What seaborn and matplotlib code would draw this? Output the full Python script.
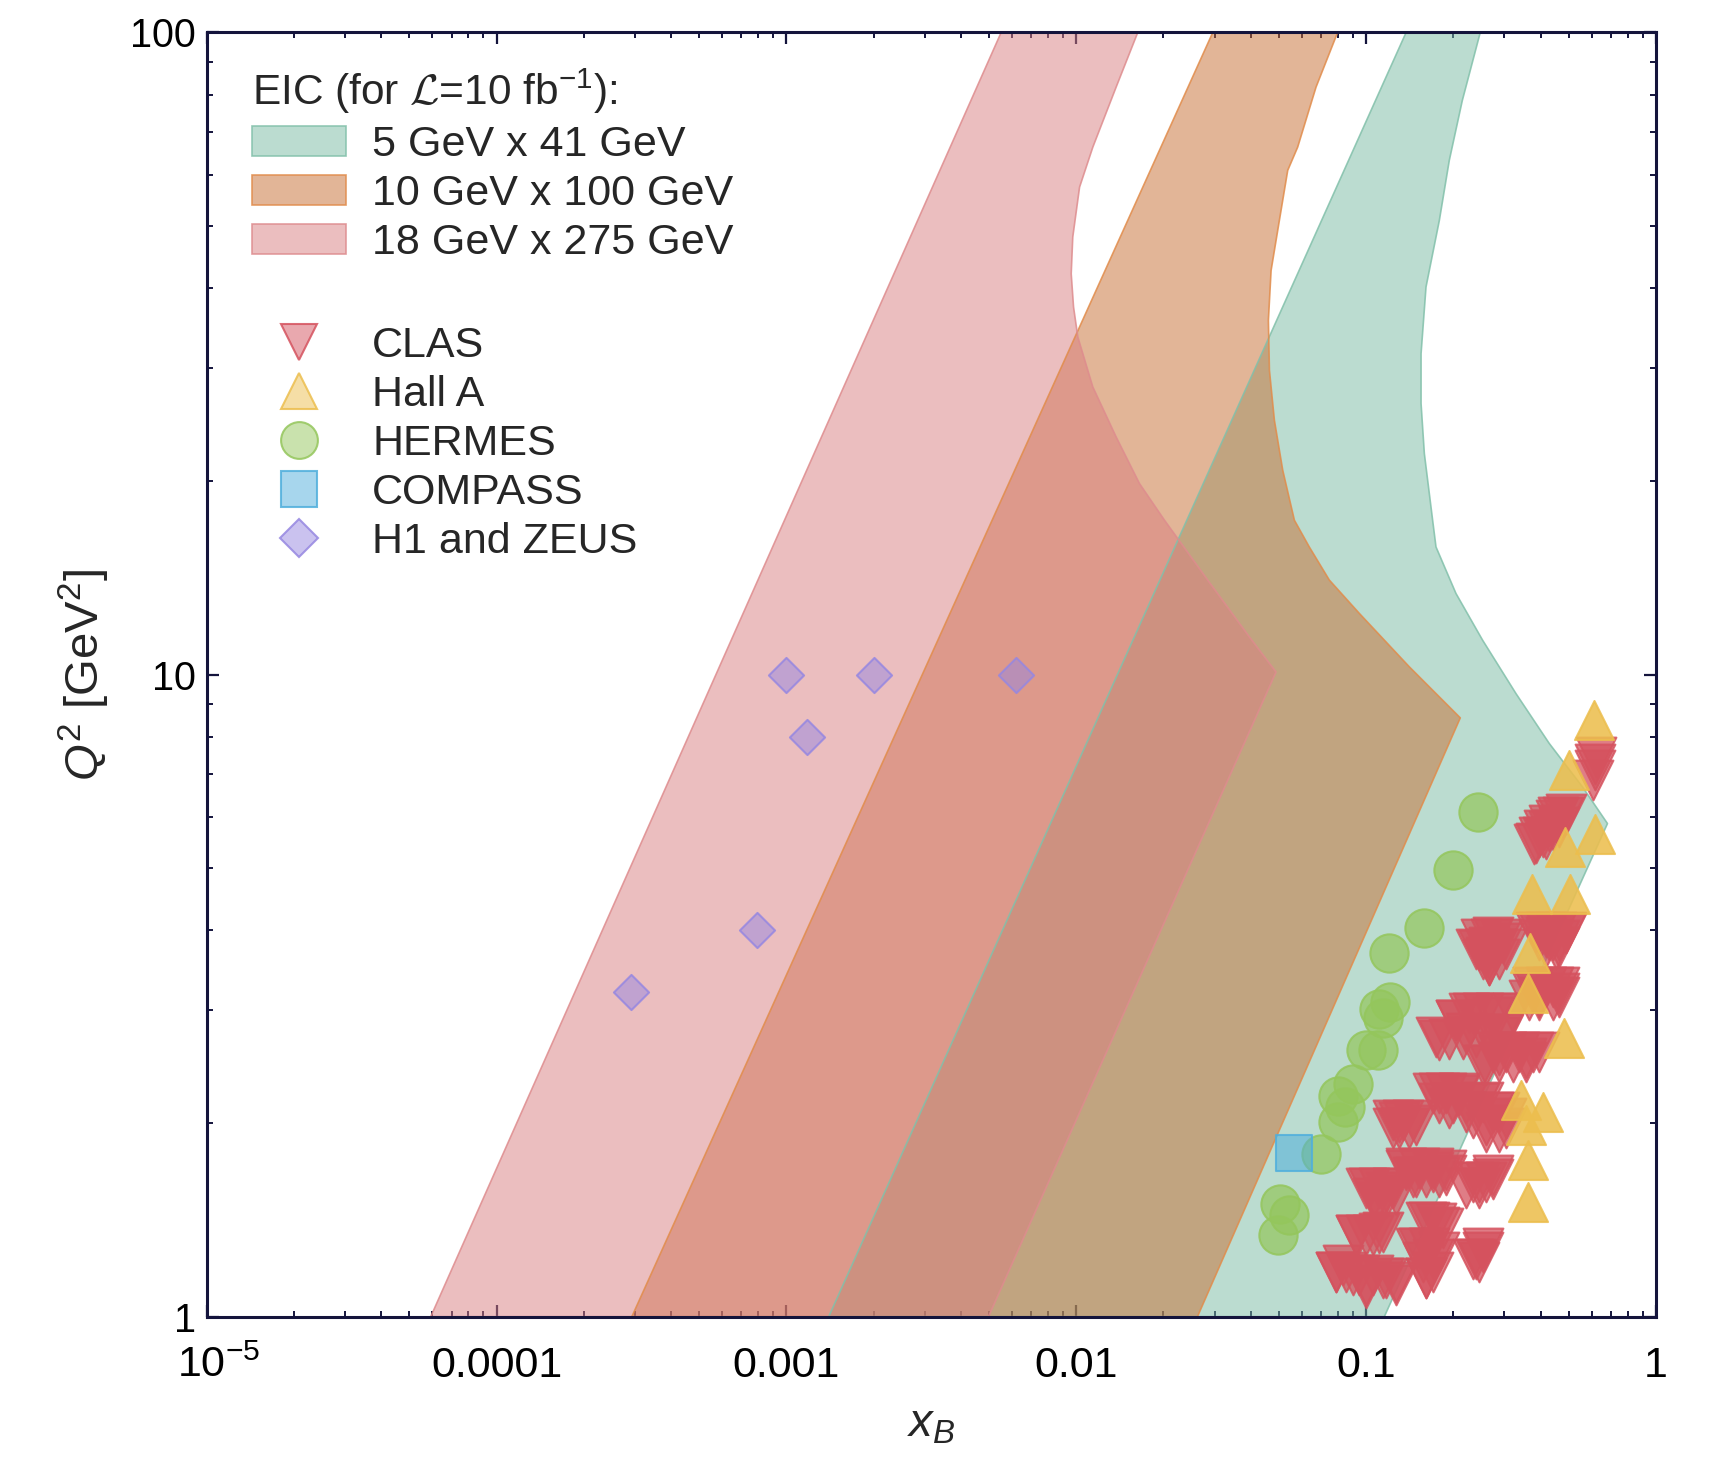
import numpy as np
import pandas as pd
import matplotlib
matplotlib.use("Agg")
import matplotlib.pyplot as plt
import matplotlib.transforms as mtransforms
import seaborn as sns
from matplotlib.patches import Patch
from matplotlib.lines import Line2D
from matplotlib.font_manager import FontProperties

# ---------------- data ----------------
band_labels = ["5 GeV x 41 GeV", "10 GeV x 100 GeV", "18 GeV x 275 GeV"]

# EIC acceptance bands: boundary (x_B, Q^2), traced around each region
green_x = [1.40e-3, 0.1156, 0.6807, 0.5585, 0.4286, 0.3290, 0.2524, 0.2043, 0.1743,
           0.1697, 0.1589, 0.1548, 0.1548, 0.1610, 0.1790, 0.1937, 0.2148, 0.2478,
           0.1375]
green_q2 = [1, 1, 5.86, 6.68, 7.81, 9.34, 11.31, 13.37, 15.80,
            17.39, 22.08, 26.42, 31.60, 40.13, 50.96, 63.18, 78.3, 100,
            100]

orange_x = [2.93e-4, 0.02620, 0.2114, 0.1410, 0.0948, 0.0747, 0.0637, 0.05659,
            0.05159, 0.04828, 0.04641, 0.04603, 0.04703, 0.05023, 0.05367, 0.05808,
            0.0672, 0.0798, 0.0296]
orange_q2 = [1, 1, 8.56, 10.28, 12.45, 14.03, 15.80, 17.39,
             20.80, 24.88, 29.77, 35.61, 42.59, 50.96, 60.96, 66.25,
             82.16, 100, 100]

pink_x = [5.93e-5, 4.98e-3, 0.0489, 0.03959, 0.02813, 0.02016, 0.01653, 0.01373,
          0.01141, 0.01013, 0.00979, 0.00961, 0.00973, 0.01027, 0.01141, 0.01373,
          0.01631, 5.51e-3]
pink_q2 = [1, 1, 10.09, 11.44, 14.12, 17.39, 19.83, 23.44,
           28.04, 33.54, 37.35, 42.09, 48.0, 57.41, 66.25, 82.16,
           100, 100]

clas_x = [0.621, 0.615, 0.607, 0.618,
          0.489, 0.458, 0.4285, 0.4065, 0.3855,
          0.4764, 0.4519, 0.4286, 0.4120, 0.3959, 0.3804, 0.4401, 0.4174, 0.4641,
          0.2733, 0.2661, 0.2593, 0.2661, 0.2459, 0.2959,
          0.2491, 0.2697, 0.2920, 0.2394, 0.2593, 0.2806, 0.3038, 0.2525, 0.2661,
          0.2882, 0.2661,
          0.3959, 0.4892, 0.4401, 0.4641, 0.4174,
          0.3855, 0.4174, 0.4519, 0.4892, 0.3959, 0.4286, 0.4641, 0.4174, 0.4519,
          0.4401, 0.4641, 0.3959, 0.3755,
          0.3755, 0.4174, 0.4641, 0.3959, 0.4401, 0.3657, 0.4641,
          0.2332, 0.2733, 0.2043, 0.1790, 0.2212, 0.2882, 0.3204,
          0.2271, 0.2525, 0.2806, 0.2043, 0.1743, 0.1937, 0.2154, 0.2394, 0.2661,
          0.2959,
          0.2882, 0.3560, 0.3959, 0.2525,
          0.2733, 0.3038, 0.3378, 0.3755, 0.2882, 0.3204, 0.3560, 0.2593,
          0.1790, 0.2098, 0.2525, 0.2882, 0.2212, 0.1937, 0.3039, 0.2593,
          0.1698, 0.1886, 0.2098, 0.1790, 0.1990, 0.2212, 0.2459, 0.2733, 0.3038,
          0.2332, 0.2593, 0.2882,
          0.1302, 0.1487, 0.1235,
          0.1235, 0.1338, 0.1448, 0.1302, 0.1410,
          0.1373, 0.1698, 0.1487, 0.1886,
          0.1373, 0.1527, 0.1698, 0.1886, 0.1448, 0.1610, 0.1790,
          0.1026, 0.1172, 0.1083, 0.1268,
          0.0999, 0.1111, 0.1235, 0.1054, 0.1172, 0.1111,
          0.2459, 0.2733, 0.2212,
          0.2332, 0.2593, 0.2733, 0.2459,
          0.1653, 0.1790,
          0.1610, 0.1743, 0.1838,
          0.0923, 0.1054, 0.1141,
          0.0923, 0.0999, 0.1111,
          0.1527, 0.1698, 0.1610,
          0.1487, 0.1653, 0.1790, 0.1568, 0.1698, 0.1610,
          0.2394, 0.2525,
          0.2332, 0.2525, 0.2459,
          0.0787, 0.0899, 0.0999, 0.1141, 0.1268, 0.0831,
          0.0787, 0.0853, 0.0948, 0.1054, 0.1172, 0.1268, 0.0999]
clas_q2 = [7.44, 7.10, 6.86, 7.25,
           6.07, 5.99, 5.71, 5.59, 5.47,
           5.99, 5.93, 5.83, 5.72, 5.59, 5.45, 5.72, 5.55, 5.79,
           3.895, 3.766, 3.635, 3.535, 3.722, 3.812,
           3.88, 3.88, 3.88, 3.74, 3.74, 3.74, 3.74, 3.61, 3.61,
           3.61, 3.53,
           3.975, 3.952, 3.858, 3.766, 3.905,
           3.975, 3.975, 3.975, 3.975, 3.86, 3.86, 3.86, 3.77, 3.74,
           3.264, 3.149, 3.111, 3.187,
           3.26, 3.26, 3.26, 3.15, 3.11, 3.11, 3.19,
           2.966, 2.931, 2.896, 2.695, 2.761, 2.728, 2.966,
           2.97, 2.97, 2.97, 2.90, 2.73, 2.71, 2.71, 2.73, 2.76,
           2.76,
           2.555, 2.524, 2.585, 2.465,
           2.585, 2.585, 2.585, 2.585, 2.495, 2.495, 2.495, 2.465,
           2.227, 2.214, 2.161, 2.085, 2.085, 2.110, 1.964, 1.941,
           2.227, 2.227, 2.227, 2.148, 2.148, 2.148, 2.148, 2.085, 2.036,
           2.036, 1.988, 1.941,
           2.012, 1.988, 1.964,
           2.024, 2.024, 2.024, 1.964, 1.964,
           1.692, 1.682, 1.652, 1.662,
           1.702, 1.702, 1.702, 1.692, 1.652, 1.652, 1.652,
           1.585, 1.565, 1.510, 1.546,
           1.585, 1.585, 1.585, 1.528, 1.528, 1.492,
           1.622, 1.641, 1.585,
           1.622, 1.622, 1.662, 1.585,
           1.406, 1.380,
           1.406, 1.398, 1.372,
           1.340, 1.340, 1.356,
           1.340, 1.340, 1.348,
           1.277, 1.232, 1.147,
           1.277, 1.277, 1.262, 1.218, 1.175, 1.147,
           1.232, 1.277,
           1.232, 1.262, 1.218,
           1.175, 1.161, 1.120, 1.147, 1.120, 1.203,
           1.175, 1.175, 1.161, 1.161, 1.147, 1.134, 1.107]

halla_x = [0.6125, 0.4995, 0.6175, 0.4855, 0.3725, 0.5064, 0.3675, 0.363, 0.481,
           0.3423, 0.4065, 0.3560, 0.3609, 0.3609]
halla_q2 = [8.49, 7.10, 5.65, 5.38, 4.56, 4.56, 3.68, 3.19, 2.72,
            2.175, 2.085, 1.99, 1.754, 1.51]

hermes_x = [0.2425, 0.200, 0.1589, 0.1203, 0.121, 0.111, 0.114, 0.100, 0.1097,
            0.090, 0.080, 0.0843, 0.080, 0.0701, 0.0504, 0.0543, 0.0498]
hermes_q2 = [6.11, 4.96, 4.03, 3.69, 3.09, 3.01, 2.92, 2.60, 2.60,
             2.30, 2.21, 2.12, 2.01, 1.79, 1.50, 1.44, 1.34]

compass_x = [0.0563]
compass_q2 = [1.80]

h1zeus_x = [0.0010, 0.0020, 0.0062, 0.00118, 0.00079, 0.00029]
h1zeus_q2 = [10.0, 10.0, 10.0, 8.0, 4.0, 3.2]

exp_labels = ["CLAS", "Hall A", "HERMES", "COMPASS", "H1 and ZEUS"]

# ---------------- style ----------------
sns.set_theme(style="ticks")
plt.rcParams["font.family"] = ["Liberation Sans", "DejaVu Sans"]
plt.rcParams["mathtext.fontset"] = "custom"
plt.rcParams["mathtext.rm"] = "Liberation Sans"
plt.rcParams["mathtext.it"] = "Liberation Sans:italic"
plt.rcParams["mathtext.bf"] = "Liberation Sans:bold"
plt.rcParams["mathtext.cal"] = "cmsy10"

navy = "#14143c"
c_green = (121/255, 187/255, 163/255)
c_orange = (199/255, 109/255, 49/255)
c_pink = (217/255, 127/255, 129/255)
e_green = (130/255, 192/255, 170/255)
e_orange = (225/255, 140/255, 75/255)
e_pink = (222/255, 140/255, 142/255)
c_clas = (213/255, 82/255, 94/255)
c_halla = (236/255, 190/255, 78/255)
c_hermes = (148/255, 198/255, 92/255)
c_compass = (80/255, 175/255, 220/255)
c_h1 = (150/255, 135/255, 225/255)

def rgba(c, a):
    return (c[0], c[1], c[2], a)

fig = plt.figure(figsize=(17.11, 14.57), dpi=100)
ax = fig.add_axes([0.1208, 0.0963, 0.8470, 0.8815])
ax.set_xscale("log")
ax.set_yscale("log")

for bx, bq, col, ecol in [(green_x, green_q2, c_green, e_green),
                          (orange_x, orange_q2, c_orange, e_orange),
                          (pink_x, pink_q2, c_pink, e_pink)]:
    ax.fill(bx, bq, color=rgba(col, 0.5), lw=0, zorder=1)
    ax.plot(list(bx) + [bx[0]], list(bq) + [bq[0]], color=ecol, alpha=0.85,
            lw=1.2, zorder=1.5, solid_joinstyle="round")

def scat(xs, qs, marker, col, s, a):
    df = pd.DataFrame({"x": xs, "Q2": qs})
    sns.scatterplot(data=df, x="x", y="Q2", marker=marker, s=s,
                    color=rgba(col, a), edgecolor=rgba(col, 0.85),
                    linewidth=1.5, ax=ax, zorder=3, legend=False)

scat(h1zeus_x, h1zeus_q2, "D", c_h1, 320, 0.5)
scat(hermes_x, hermes_q2, "o", c_hermes, 760, 0.7)
scat(compass_x, compass_q2, "s", c_compass, 690, 0.55)
scat(clas_x, clas_q2, "v", c_clas, 820, 0.75)
scat(halla_x, halla_q2, "^", c_halla, 790, 0.88)

ax.set_xlim(1e-5, 1)
ax.set_ylim(1, 100)

ax.set_xticks([1e-5, 1e-4, 1e-3, 1e-2, 1e-1, 1])
ax.set_xticklabels(["10$^{-5}$", "0.0001", "0.001", "0.01", "0.1", "1"])
ax.set_yticks([1, 10, 100])
ax.set_yticklabels(["1", "10", "100"])

for sp in ax.spines.values():
    sp.set_color(navy)
    sp.set_linewidth(2.2)
    sp.set_visible(True)
    sp.set_zorder(5)
ax.tick_params(which="both", direction="in", top=True, right=True, color=navy,
               labelcolor="black")
ax.tick_params(which="major", length=8.5, width=1.6)
ax.tick_params(which="minor", length=4.2, width=1.4)
ax.tick_params(axis="x", which="major", pad=21, labelsize=31)
ax.tick_params(axis="y", which="major", pad=8, labelsize=28.5)

# shift the 10^-5 label a bit right, as in the original
lab0 = ax.get_xticklabels()[0]
lab0.set_transform(lab0.get_transform() +
                   mtransforms.ScaledTranslation(0.12, 0, fig.dpi_scale_trans))

ax.set_xlabel("$x_B$", fontsize=34, labelpad=12)
ax.set_ylabel("$Q^2$ [GeV$^2$]", fontsize=34, labelpad=13)

# ---------------- legends ----------------
band_cols = [c_green, c_orange, c_pink]
band_edges = [e_green, e_orange, e_pink]
h_bands = [Patch(facecolor=rgba(c, 0.5), edgecolor=rgba(e, 0.85), lw=1.2)
           for c, e in zip(band_cols, band_edges)]

common = dict(loc="upper left", frameon=False, fontsize=31, borderpad=0,
              borderaxespad=0, handlelength=2.18, handleheight=0.7,
              handletextpad=0.6, labelspacing=0.21)

leg1 = ax.legend(h_bands, band_labels, bbox_to_anchor=(0.0315, 0.9735),
                 title="EIC (for $\\mathcal{L}$=10 fb$^{-1}$):",
                 title_fontproperties=FontProperties(family=["Liberation Sans", "DejaVu Sans"], size=30.5),
                 alignment="left", **common)
ax.add_artist(leg1)

h_exp = []
for m, c, ms in [("v", c_clas, 26.5), ("^", c_halla, 26.5), ("o", c_hermes, 26.5),
                 ("s", c_compass, 25.5), ("D", c_h1, 19)]:
    h_exp.append(Line2D([], [], linestyle="None", marker=m, markersize=ms,
                        markerfacecolor=rgba(c, 0.5), markeredgecolor=rgba(c, 0.85),
                        markeredgewidth=1.5))
leg2 = ax.legend(h_exp, exp_labels, bbox_to_anchor=(0.0315, 0.7715), **common)

fig.savefig("out.png", dpi=100)
